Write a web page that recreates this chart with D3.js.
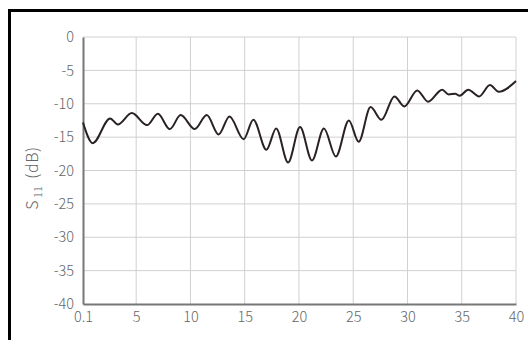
<!DOCTYPE html>
<html><head><meta charset="utf-8">
<script src="https://cdn.jsdelivr.net/npm/d3@7"></script>
<style>
html,body{margin:0;padding:0;background:#fff;}
text{font-family:'Noto Sans CJK JP','Noto Sans',sans-serif;}
</style></head>
<body>
<svg id="c" width="528" height="340"></svg>
<script>
const freqGHz = [0.1,1.0,2.6,3.3,4.6,6.0,7.0,8.1,9.1,10.4,11.5,12.6,13.6,14.9,15.8,17.0,17.9,19.0,20.1,21.2,22.3,23.4,24.6,25.5,26.6,27.6,28.8,29.7,30.9,31.9,33.2,33.8,34.4,34.8,35.6,36.6,37.6,38.4,40.0];
const s11dB = [-12.8,-15.9,-12.2,-13.1,-11.4,-13.2,-11.5,-13.8,-11.7,-13.8,-11.7,-14.6,-11.9,-15.3,-12.4,-16.9,-13.7,-18.8,-13.5,-18.5,-13.7,-17.9,-12.5,-15.7,-10.5,-12.4,-8.9,-10.4,-8.0,-9.7,-7.9,-8.6,-8.5,-8.8,-7.9,-8.9,-7.2,-8.2,-6.6];
const xTicks = [0.1,5,10,15,20,25,30,35,40];
const yTicks = [0,-5,-10,-15,-20,-25,-30,-35,-40];

const svg = d3.select("#c");
const L=83, R=516, T=37, B=304;
const FONT = "'Noto Sans CJK JP','Noto Sans',sans-serif";
const x = d3.scaleLinear().domain([0.1,40]).range([L,R]);
const y = d3.scaleLinear().domain([-40,0]).range([B,T]);

// outer border
svg.append("rect").attr("x",9.5).attr("y",10.5).attr("width",540).attr("height",360)
  .attr("fill","none").attr("stroke","#000").attr("stroke-width",3);

// grid
svg.append("g").selectAll("line").data(xTicks.slice(1)).join("line")
  .attr("x1",d=>x(d)).attr("x2",d=>x(d)).attr("y1",T).attr("y2",B)
  .attr("stroke","#d0d0d0").attr("stroke-width",1);
svg.append("g").selectAll("line").data(yTicks.slice(0,-1)).join("line")
  .attr("x1",L).attr("x2",R).attr("y1",d=>y(d)).attr("y2",d=>y(d))
  .attr("stroke","#d0d0d0").attr("stroke-width",1);

// axes
const xAxis = svg.append("g").attr("transform",`translate(0,${B})`)
  .call(d3.axisBottom(x).tickValues(xTicks).tickSize(0).tickPadding(8).tickFormat(d=>String(d)));
const yAxis = svg.append("g").attr("transform",`translate(${L},0)`)
  .call(d3.axisLeft(y).tickValues(yTicks).tickSize(0).tickPadding(9).tickFormat(d=>String(d)));
[xAxis,yAxis].forEach(a=>{
  a.select(".domain").attr("stroke","#777").attr("stroke-width",2);
  a.selectAll("text").attr("fill","#666").attr("font-size",14.5)
   .attr("font-family",FONT).attr("font-weight",300);
});

// line
const line = d3.line().x((d,i)=>x(freqGHz[i])).y(d=>y(d)).curve(d3.curveMonotoneX);
svg.append("path").datum(s11dB).attr("d",line).attr("fill","none")
  .attr("stroke","#2a2222").attr("stroke-width",2);

// y label
const lab = svg.append("text").attr("transform","translate(38,178) rotate(-90)")
  .attr("text-anchor","middle").attr("fill","#666").style("font-size","16px")
  .style("font-family",FONT).attr("font-weight",300).style("letter-spacing","0.6px");
lab.append("tspan").text("S");
lab.append("tspan").style("font-size","10px").attr("dx",2).attr("dy",4).text("11");
lab.append("tspan").attr("dx",3).attr("dy",-4).text(" (dB)");
</script>
</body></html>
